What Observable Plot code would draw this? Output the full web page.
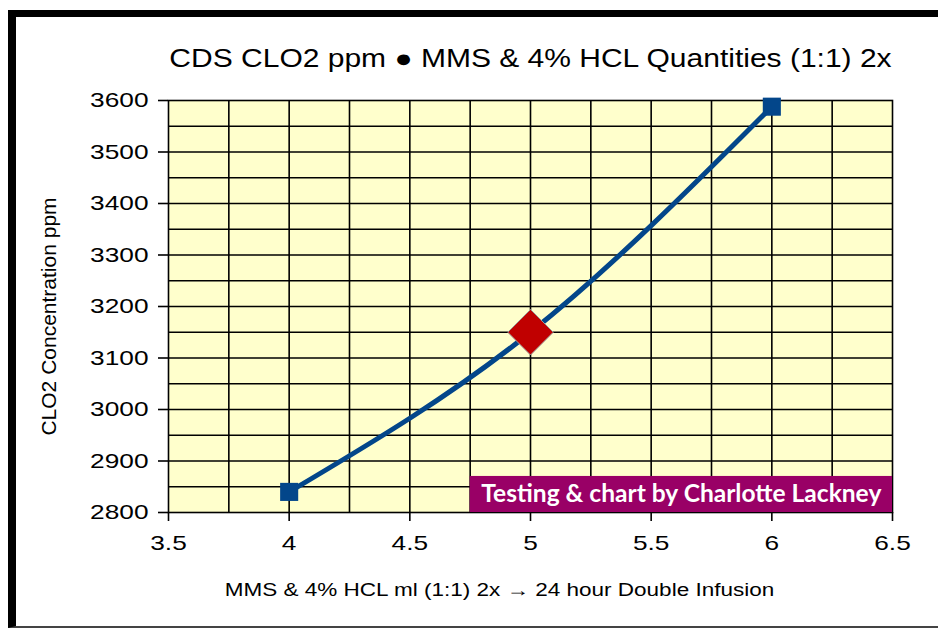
<!DOCTYPE html>
<html>
<head>
<meta charset="utf-8">
<script src="https://cdn.jsdelivr.net/npm/d3@7"></script>
<script src="https://cdn.jsdelivr.net/npm/@observablehq/plot@0.6"></script>
<style>
  html, body { margin: 0; padding: 0; background: #fff; width: 938px; height: 629px; overflow: hidden; }
  #wrap { position: relative; width: 938px; height: 629px; }
  #frame { position: absolute; left: 8px; top: 10px; width: 922px; height: 609px;
           border-top: 7px solid #000; border-left: 8px solid #000; border-bottom: 2px solid #444; }
  #chart { position: absolute; left: 0; top: 0; }
</style>
</head>
<body>
<div id="wrap"><div id="frame"></div><div id="chart"></div></div>
<script>
// ---- data ----
const doseMl = [4, 5, 6];
const clo2Ppm = [2840, 3150, 3588];
const markerKind = ["square", "diamond", "square"];
const xTicks = [3.5, 4, 4.5, 5, 5.5, 6, 6.5];
const yTicks = [2800, 2900, 3000, 3100, 3200, 3300, 3400, 3500, 3600];
const xGrid = [3.75, 4, 4.25, 4.5, 4.75, 5, 5.25, 5.5, 5.75, 6, 6.25];
const yGrid = [2850, 2900, 2950, 3000, 3050, 3100, 3150, 3200, 3250, 3300, 3350, 3400, 3450, 3500, 3550];
const titleText = "CDS CLO2 ppm \u25CF MMS & 4% HCL Quantities (1:1) 2x";
const xLabelText = "MMS & 4% HCL ml (1:1) 2x \u2192 24 hour Double Infusion";
const yLabelText = "CLO2 Concentration ppm";
const creditText = "Testing & chart by Charlotte Lackney";
const creditX = [4.75, 6.5];
const creditY = [2800, 2870];

const points = doseMl.map((x, i) => ({x, y: clo2Ppm[i], kind: markerKind[i]}));
const credit = [{x1: creditX[0], x2: creditX[1], y1: creditY[0], y2: creditY[1], text: creditText}];

const blue = "#03468A";

const plot = Plot.plot({
  width: 938,
  height: 629,
  marginTop: 100,
  marginBottom: 117,
  marginLeft: 168,
  marginRight: 46,
  style: {background: "transparent", fontFamily: "'Liberation Sans', Arial, sans-serif", fontSize: "21px", color: "#000"},
  x: {domain: [3.5, 6.5]},
  y: {domain: [2800, 3600]},
  marks: [
    Plot.frame({fill: "#FFFFCC", stroke: "none"}),
    Plot.gridX(xGrid, {stroke: "#000", strokeOpacity: 1, strokeWidth: 1.6}),
    Plot.gridY(yGrid, {stroke: "#000", strokeOpacity: 1, strokeWidth: 1.6}),
    Plot.frame({stroke: "#000", strokeWidth: 1.6}),
    Plot.rect(credit, {x1: "x1", x2: "x2", y1: "y1", y2: "y2", fill: "#990066"}),
    Plot.text(credit, {x: d => (d.x1 + d.x2) / 2, y: d => (d.y1 + d.y2) / 2, text: "text",
      fill: "#fff", fontWeight: "bold", fontFamily: "Lato, 'Open Sans', sans-serif", fontSize: 24, className: "credit"}),
    Plot.line(points, {x: "x", y: "y", curve: "natural", stroke: blue, strokeWidth: 5}),
    Plot.dot(points.filter(d => d.kind === "square"), {x: "x", y: "y", symbol: "square", r: 10.2, fill: blue, stroke: "none"}),
    Plot.dot(points.filter(d => d.kind === "diamond"), {x: "x", y: "y", symbol: "diamond2", r: 20.5, fill: "#C00000", stroke: "#999", strokeWidth: 1}),
    Plot.axisX({ticks: xTicks, tickFormat: d => String(d), tickSize: 9, tickPadding: 14, label: null, fontSize: 21, className: "xax", strokeWidth: 1.6}),
    Plot.axisY({ticks: yTicks, tickFormat: d => String(d), tickSize: 10, tickPadding: 10, label: null, fontSize: 21, className: "yax", strokeWidth: 1.6}),
    Plot.text([titleText], {frameAnchor: "top", dy: -34, lineAnchor: "bottom", fontSize: 25, className: "ttl"}),
    Plot.text([xLabelText], {frameAnchor: "bottom", dx: -31, dy: 83, lineAnchor: "bottom", fontSize: 18, className: "xlab"}),
    Plot.text([yLabelText], {frameAnchor: "left", rotate: -90, dx: -119, dy: 10, textAnchor: "middle", lineAnchor: "middle", fontSize: 21})
  ]
});
document.getElementById("chart").appendChild(plot);

function stretch(sel, f) {
  plot.querySelectorAll(sel).forEach(t => {
    const L = t.getComputedTextLength();
    t.setAttribute("textLength", (L * f).toFixed(2));
    t.setAttribute("lengthAdjust", "spacingAndGlyphs");
  });
}
stretch(".xax text, .yax text", 1.25);
stretch(".ttl text", 1.2);
stretch(".xlab text", 1.25);
plot.querySelectorAll(".credit text").forEach(t => {
  t.setAttribute("textLength", "400");
  t.setAttribute("lengthAdjust", "spacingAndGlyphs");
});
</script>
</body>
</html>
